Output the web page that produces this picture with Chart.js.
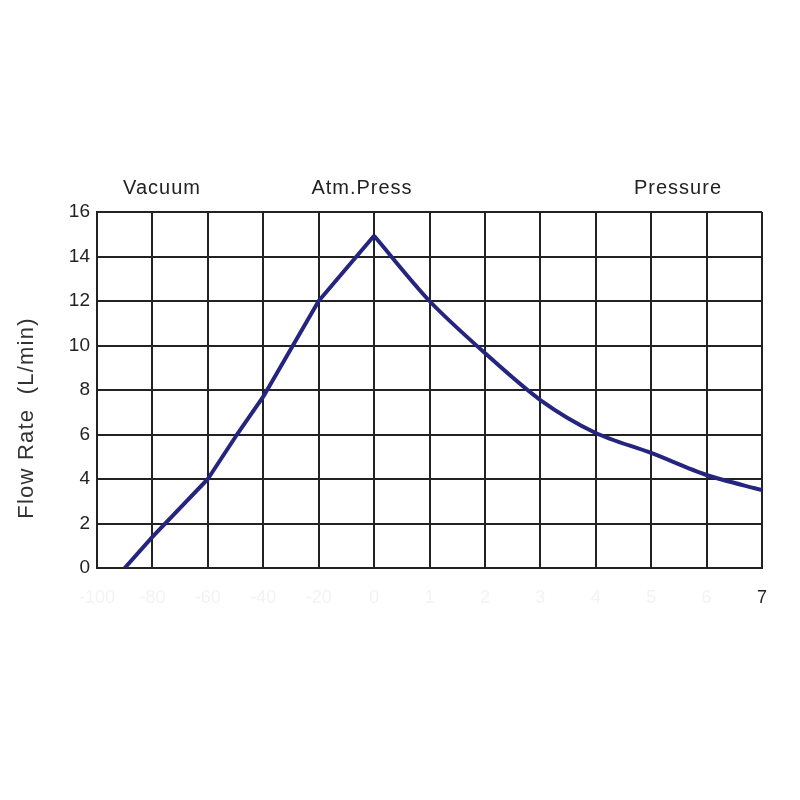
<!DOCTYPE html>
<html>
<head>
<meta charset="utf-8">
<script src="https://cdn.jsdelivr.net/npm/chart.js@4/dist/chart.umd.min.js"></script>
<style>
  html, body { margin: 0; padding: 0; background: #fff; }
  #wrap { width: 800px; height: 800px; }
</style>
</head>
<body>
<div id="wrap"><canvas id="flow"></canvas></div>
<script>
// x positions are grid columns (0..12), tick labels are the printed scale
const tickLabels = ['-100', '-80', '-60', '-40', '-20', '0', '1', '2', '3', '4', '5', '6', '7'];
// vacuum side: straight segments, sharp peak at atm. press
const vacuumX = [0.5, 1, 2, 2.5, 3, 4, 5];
const vacuumFlow = [0, 1.4, 4.0, 5.9, 7.7, 12.0, 14.93];
// pressure side: smooth falling curve
const pressureX = [5, 6, 7, 8, 9, 10, 11, 12];
const pressureFlow = [14.93, 12.0, 9.66, 7.55, 6.07, 5.17, 4.18, 3.5];
const zoneLabels = ['Vacuum', 'Atm.Press', 'Pressure'];
const zoneX = [162, 362, 678];

const font = '"Liberation Sans", Arial, sans-serif';
const ink = '#222';
const lineColour = '#25257f';

// header labels and y title drawn at fixed spots
const textPlugin = {
  id: 'texts',
  afterDraw(chart) {
    const ctx = chart.ctx;
    ctx.save();
    ctx.fillStyle = ink;
    ctx.font = '20px ' + font;
    ctx.letterSpacing = '1px';
    ctx.textAlign = 'center';
    ctx.textBaseline = 'middle';
    zoneLabels.forEach((t, i) => ctx.fillText(t, zoneX[i], 188));
    ctx.translate(27, 418);
    ctx.rotate(-Math.PI / 2);
    ctx.font = '22px ' + font;
    ctx.letterSpacing = '1.2px';
    ctx.fillStyle = '#333';
    ctx.fillText('Flow Rate  (L/min)', 0, 0);
    ctx.restore();
  }
};

const toPoints = (xs, ys) => xs.map((x, i) => ({ x: x, y: ys[i] }));

new Chart(document.getElementById('flow'), {
  type: 'line',
  data: {
    datasets: [{
      data: toPoints(vacuumX, vacuumFlow),
      borderColor: lineColour,
      borderWidth: 4,
      borderJoinStyle: 'round',
      pointRadius: 0,
      tension: 0,
      fill: false
    }, {
      data: toPoints(pressureX, pressureFlow),
      borderColor: lineColour,
      borderWidth: 4,
      borderJoinStyle: 'round',
      pointRadius: 0,
      tension: 0.3,
      fill: false
    }]
  },
  options: {
    responsive: true,
    maintainAspectRatio: false,
    animation: false,
    layout: { padding: { top: 212, right: 38, left: 0, bottom: 0 } },
    plugins: { legend: { display: false }, tooltip: { enabled: false } },
    scales: {
      x: {
        type: 'linear',
        min: 0,
        max: 12,
        afterFit(scale) { scale.height = 232; },
        afterBuildTicks(scale) {
          scale.ticks = tickLabels.map((t, i) => ({ value: i }));
        },
        grid: { color: ink, lineWidth: 2, drawTicks: false },
        border: { color: ink, width: 2 },
        ticks: {
          padding: 19,
          maxRotation: 0,
          autoSkip: false,
          font: { family: font, size: 18 },
          color: (c) => c.index === 12 ? ink : '#f3f3f3',
          callback: (v, i) => tickLabels[i]
        }
      },
      y: {
        min: 0,
        max: 16,
        afterFit(scale) { scale.width = 97; },
        grid: { color: ink, lineWidth: 2, drawTicks: false },
        border: { color: ink, width: 2 },
        ticks: {
          stepSize: 2,
          padding: 7,
          font: { family: font, size: 19 },
          color: ink
        }
      }
    }
  },
  plugins: [textPlugin]
});
</script>
</body>
</html>
